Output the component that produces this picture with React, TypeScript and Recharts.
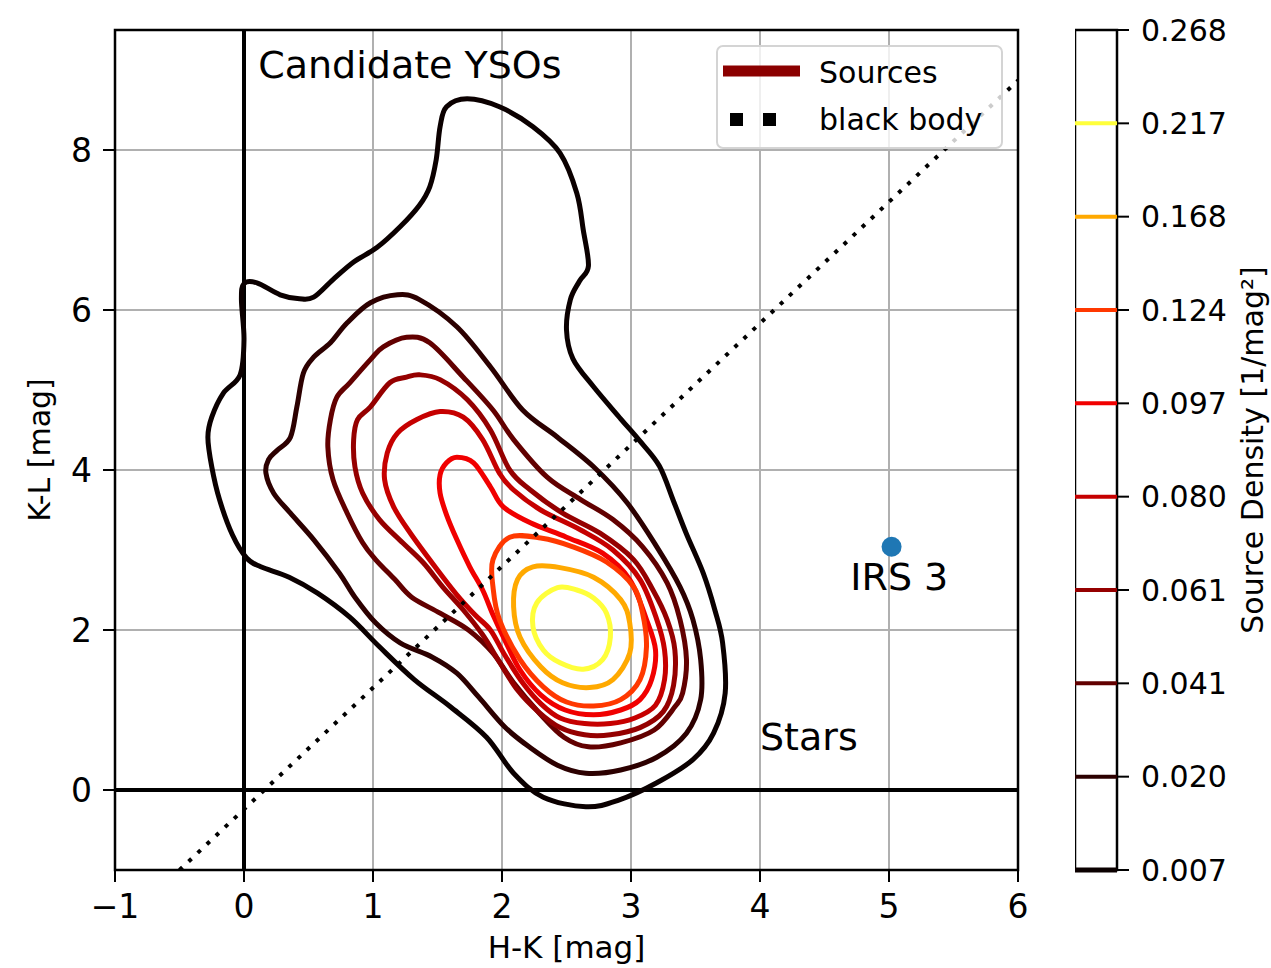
import React from 'react';
import {
  ComposedChart,
  Scatter,
  XAxis,
  YAxis,
  CartesianGrid,
  ReferenceLine,
  ReferenceArea,
  Legend,
  Label,
} from 'recharts';

const FONT = '"DejaVu Sans", sans-serif';

// axes
const xTicks = [-1, 0, 1, 2, 3, 4, 5, 6];
const yTicks = [0, 2, 4, 6, 8];

// density levels shown on the colorbar (1/mag^2)
const levels = [0.007, 0.02, 0.041, 0.061, 0.08, 0.097, 0.124, 0.168, 0.217, 0.268];
const levelLabels = ['0.007', '0.020', '0.041', '0.061', '0.080', '0.097', '0.124', '0.168', '0.217', '0.268'];

// contour paths, [H-K, K-L]
const c007: [number, number][] = [
  [1.73, 8.64], [1.98, 8.54], [2.24, 8.29], [2.45, 7.96], [2.58, 7.46], [2.63, 7.0], [2.67, 6.55],
  [2.6, 6.36], [2.53, 6.13], [2.5, 5.75], [2.55, 5.39], [2.71, 5.04], [2.92, 4.64], [3.07, 4.36],
  [3.22, 4.05], [3.33, 3.61], [3.43, 3.2], [3.56, 2.71], [3.65, 2.25], [3.71, 1.84], [3.73, 1.21],
  [3.64, 0.71], [3.48, 0.38], [3.2, 0.09], [2.9, -0.13], [2.65, -0.21], [2.32, -0.09], [2.09, 0.21],
  [1.88, 0.66], [1.6, 1.04], [1.32, 1.38], [1.05, 1.79], [0.82, 2.16], [0.57, 2.46], [0.35, 2.66],
  [0.13, 2.79], [0.02, 2.9], [-0.09, 3.19], [-0.19, 3.63], [-0.25, 4.04], [-0.28, 4.41], [-0.25, 4.66],
  [-0.16, 4.96], [-0.03, 5.19], [0.0, 5.63], [-0.02, 6.13], [0.0, 6.33], [0.1, 6.34], [0.28, 6.19],
  [0.43, 6.14], [0.54, 6.16], [0.69, 6.38], [0.85, 6.6], [1.03, 6.78], [1.21, 7.04], [1.36, 7.31],
  [1.44, 7.54], [1.49, 7.88], [1.52, 8.29], [1.57, 8.54],
];
const c020: [number, number][] = [
  [1.19, 6.19], [1.36, 6.13], [1.65, 5.79], [1.91, 5.29], [2.16, 4.75], [2.43, 4.41], [2.71, 4.04],
  [2.97, 3.59], [3.2, 3.04], [3.38, 2.54], [3.48, 2.13], [3.54, 1.63], [3.54, 1.13], [3.43, 0.71],
  [3.2, 0.41], [2.92, 0.25], [2.65, 0.21], [2.43, 0.31], [2.21, 0.54], [2.02, 0.79], [1.82, 1.16],
  [1.65, 1.46], [1.46, 1.66], [1.21, 1.84], [1.02, 2.09], [0.86, 2.41], [0.74, 2.71], [0.54, 3.13],
  [0.36, 3.46], [0.23, 3.71], [0.17, 3.96], [0.19, 4.13], [0.26, 4.25], [0.36, 4.41], [0.41, 4.79],
  [0.46, 5.21], [0.54, 5.41], [0.67, 5.59], [0.8, 5.84], [0.98, 6.09],
];
const c041: [number, number][] = [
  [1.26, 5.66], [1.44, 5.59], [1.7, 5.16], [1.93, 4.75], [2.09, 4.38], [2.35, 3.91], [2.61, 3.63],
  [2.86, 3.38], [3.09, 3.04], [3.28, 2.59], [3.38, 2.13], [3.43, 1.63], [3.4, 1.21], [3.34, 1.04],
  [3.18, 0.75], [2.92, 0.59], [2.67, 0.54], [2.48, 0.66], [2.29, 0.96], [2.09, 1.34], [1.93, 1.71],
  [1.74, 2.0], [1.52, 2.21], [1.3, 2.41], [1.17, 2.63], [1.02, 2.88], [0.92, 3.09], [0.8, 3.46],
  [0.69, 3.88], [0.65, 4.29], [0.67, 4.63], [0.72, 4.91], [0.82, 5.09], [0.98, 5.38], [1.08, 5.54],
];
const c061: [number, number][] = [
  [1.36, 5.19], [1.52, 5.13], [1.73, 4.88], [1.91, 4.5], [2.06, 4.0], [2.22, 3.75], [2.47, 3.46],
  [2.76, 3.21], [3.02, 2.88], [3.17, 2.5], [3.28, 2.13], [3.34, 1.75], [3.33, 1.31], [3.25, 0.98],
  [3.07, 0.78], [2.84, 0.69], [2.64, 0.69], [2.45, 0.78], [2.28, 0.98], [2.12, 1.25], [1.98, 1.6],
  [1.85, 1.94], [1.7, 2.25], [1.54, 2.54], [1.39, 2.84], [1.23, 3.09], [1.05, 3.38], [0.92, 3.71],
  [0.86, 4.04], [0.85, 4.38], [0.88, 4.63], [0.98, 4.79], [1.13, 5.09], [1.26, 5.16],
];
const c080: [number, number][] = [
  [1.52, 4.73], [1.7, 4.66], [1.85, 4.38], [1.98, 3.96], [2.09, 3.75], [2.3, 3.5], [2.61, 3.25],
  [2.86, 3.0], [3.07, 2.63], [3.2, 2.13], [3.26, 1.75], [3.26, 1.38], [3.19, 1.06], [3.03, 0.9],
  [2.84, 0.83], [2.64, 0.83], [2.45, 0.9], [2.3, 1.08], [2.16, 1.34], [2.02, 1.69], [1.91, 2.0],
  [1.79, 2.19], [1.65, 2.44], [1.5, 2.75], [1.29, 3.21], [1.16, 3.54], [1.09, 3.88], [1.11, 4.21],
  [1.19, 4.46], [1.34, 4.63],
];
const c097: [number, number][] = [
  [1.65, 4.16], [1.78, 4.09], [1.91, 3.79], [2.01, 3.54], [2.22, 3.34], [2.5, 3.16], [2.78, 2.96],
  [2.99, 2.63], [3.12, 2.13], [3.19, 1.75], [3.16, 1.38], [3.07, 1.13], [2.92, 1.0], [2.71, 0.94],
  [2.49, 1.0], [2.3, 1.19], [2.14, 1.5], [2.02, 1.88], [1.93, 2.19], [1.85, 2.5], [1.75, 2.79],
  [1.65, 3.13], [1.57, 3.44], [1.52, 3.71], [1.52, 3.94], [1.57, 4.09],
];
const c124: [number, number][] = [
  [2.06, 3.16], [2.3, 3.15], [2.55, 3.04], [2.81, 2.85], [3.02, 2.54], [3.09, 2.21], [3.12, 1.79],
  [3.07, 1.38], [2.92, 1.13], [2.71, 1.05], [2.5, 1.1], [2.32, 1.29], [2.14, 1.63], [1.98, 2.13],
  [1.93, 2.54], [1.93, 2.88],
];
const c168: [number, number][] = [
  [2.24, 2.79], [2.45, 2.78], [2.71, 2.66], [2.92, 2.38], [2.99, 2.09], [2.99, 1.71], [2.86, 1.38],
  [2.68, 1.28], [2.47, 1.34], [2.3, 1.54], [2.14, 1.91], [2.09, 2.29], [2.12, 2.63],
];
const c217: [number, number][] = [
  [2.43, 2.53], [2.58, 2.5], [2.71, 2.4], [2.81, 2.21], [2.84, 1.91], [2.78, 1.63], [2.63, 1.51],
  [2.45, 1.59], [2.32, 1.75], [2.24, 2.04], [2.27, 2.34],
];
const contours = [c007, c020, c041, c061, c080, c097, c124, c168, c217];

// black body colour line
const blackBodyX = [-0.5, 6.0];
const blackBodyY = [-1.0, 8.87];

// IRS 3
const irs3X = [5.02];
const irs3Y = [3.04];

// text annotations
const noteText = ['Candidate YSOs', 'Stars', 'IRS 3'];
const noteX = [0.11, 4.0, 4.7];
const noteY = [8.9, 0.5, 2.5];

const legendLabels = ['Sources', 'black body'];

// matplotlib "hot"
const hot = (t: number) => {
  const c = (v: number) => Math.round(Math.max(0, Math.min(1, v)) * 255);
  const r = c(0.0416 + (1 - 0.0416) * (t / 0.365079));
  const g = c((t - 0.365079) / (0.746032 - 0.365079));
  const b = c((t - 0.746032) / (1 - 0.746032));
  return `rgb(${r},${g},${b})`;
};
const lo = levels[0];
const hi = levels[levels.length - 1];
const levelColors = levels.map((v) => hot((v - lo) / (hi - lo)));

// smooth closed curve through the traced points (catmull-rom)
const closedCurve: any = (context: any) => {
  let pts: number[][] = [];
  return {
    areaStart() {},
    areaEnd() {},
    lineStart() {
      pts = [];
    },
    point(x: number, y: number) {
      pts.push([x, y]);
    },
    lineEnd() {
      const n = pts.length;
      if (!n) return;
      context.moveTo(pts[0][0], pts[0][1]);
      for (let i = 0; i < n; i++) {
        const p0 = pts[(i - 1 + n) % n];
        const p1 = pts[i];
        const p2 = pts[(i + 1) % n];
        const p3 = pts[(i + 2) % n];
        context.bezierCurveTo(
          p1[0] + (p2[0] - p0[0]) / 6,
          p1[1] + (p2[1] - p0[1]) / 6,
          p2[0] - (p3[0] - p1[0]) / 6,
          p2[1] - (p3[1] - p1[1]) / 6,
          p2[0],
          p2[1],
        );
      }
      context.closePath();
    },
  };
};

const noShape = () => <g />;

const fmtTick = (v: number) => (v < 0 ? `\u2212${-v}` : `${v}`);

const LegendBox = () => (
  <div
    style={{
      width: 287,
      height: 104,
      boxSizing: 'border-box',
      border: '2px solid #d4d4d4',
      borderRadius: 7,
      background: 'rgba(255,255,255,0.8)',
    }}
  >
    <svg width={283} height={100} style={{ display: 'block' }}>
      <line x1={5} x2={82} y1={24} y2={24} stroke="#8b0000" strokeWidth={11} />
      <text x={101} y={36} fontSize={30} fontFamily={FONT} fill="#000">
        {legendLabels[0]}
      </text>
      <rect x={12} y={66} width={13} height={13} fill="#000" />
      <rect x={45} y={66} width={13} height={13} fill="#000" />
      <text x={101} y={83} fontSize={30} fontFamily={FONT} fill="#000">
        {legendLabels[1]}
      </text>
    </svg>
  </div>
);

const yTitle = () => (
  <text x={50} y={450} transform="rotate(-90 50 450)" textAnchor="middle" fontSize={30} fontFamily={FONT} fill="#000">
    K-L [mag]
  </text>
);

const cbTitle = () => (
  <text x={188} y={450} transform="rotate(-90 188 450)" textAnchor="middle" fontSize={30} fontFamily={FONT} fill="#000">
    Source Density [1/mag²]
  </text>
);

export default function App() {
  const bbData = blackBodyX.map((x, i) => ({ x, y: blackBodyY[i] }));
  const irsData = irs3X.map((x, i) => ({ x, y: irs3Y[i] }));
  const noteData = noteText.map((label, i) => ({ x: noteX[i], y: noteY[i], label }));
  const cbData = levels.map((v, i) => ({ x: 0.5, y: i, v }));
  const cbTicks = levels.map((_, i) => i);

  return (
    <div
      style={{
        position: 'fixed',
        left: 0,
        top: 0,
        width: 1271,
        height: 968,
        overflow: 'hidden',
        background: '#fff',
        fontFamily: FONT,
      }}
    >
      <div style={{ position: 'absolute', left: 0, top: 0 }}>
        <ComposedChart width={1040} height={968} margin={{ top: 30, right: 22, bottom: 0, left: 0 }}>
          <CartesianGrid stroke="#b0b0b0" strokeWidth={2} />
          <XAxis
            type="number"
            dataKey="x"
            domain={[-1, 6]}
            ticks={xTicks}
            interval={0}
            allowDataOverflow
            height={98}
            tickSize={12}
            tickMargin={13}
            axisLine={false}
            tickLine={{ stroke: '#000', strokeWidth: 2 }}
            tick={{ fill: '#000', fontSize: 33 }}
            tickFormatter={fmtTick}
            label={{ value: 'H-K [mag]', position: 'insideBottom', offset: 10, fill: '#000', fontSize: 31 }}
          />
          <YAxis
            type="number"
            dataKey="y"
            domain={[-1, 9.5]}
            ticks={yTicks}
            interval={0}
            allowDataOverflow
            width={115}
            tickSize={12}
            tickMargin={11}
            axisLine={false}
            tickLine={{ stroke: '#000', strokeWidth: 2 }}
            tick={{ fill: '#000', fontSize: 33 }}
            tickFormatter={fmtTick}
            label={<Label content={yTitle} />}
          />
          <ReferenceLine x={0} stroke="#000" strokeWidth={4} />
          <ReferenceLine y={0} stroke="#000" strokeWidth={4} />
          {contours.map((pts, i) => (
            <Scatter
              key={levelLabels[i]}
              name={levelLabels[i]}
              data={pts.map(([x, y]) => ({ x, y }))}
              line={{ stroke: levelColors[i], strokeWidth: 5 }}
              lineJointType={closedCurve}
              shape={noShape}
              isAnimationActive={false}
            />
          ))}
          <Scatter
            name="black body"
            data={bbData}
            line={{ stroke: '#000', strokeWidth: 4, strokeDasharray: '4 8.5' }}
            lineJointType="linear"
            shape={noShape}
            isAnimationActive={false}
          />
          <Scatter
            name="IRS 3"
            data={irsData}
            shape={(p: any) => <circle cx={p.cx} cy={p.cy} r={10} fill="#1f77b4" />}
            isAnimationActive={false}
          />
          <Scatter
            name="notes"
            data={noteData}
            shape={(p: any) => (
              <text x={p.cx} y={p.cy} fontSize={38} fontFamily={FONT} fill="#000">
                {p.payload.label}
              </text>
            )}
            isAnimationActive={false}
          />
          <ReferenceArea x1={-1} x2={6} y1={-1} y2={9.5} fill="none" stroke="#000" strokeWidth={2.5} />
          <Legend
            layout="vertical"
            verticalAlign="middle"
            align="center"
            wrapperStyle={{ left: 716, top: 45, width: 287, height: 104 }}
            content={LegendBox}
          />
        </ComposedChart>
      </div>

      <div style={{ position: 'absolute', left: 1075, top: 0 }}>
        <ComposedChart width={196} height={968} data={cbData} margin={{ top: 30, right: 0, bottom: 98, left: 0 }}>
          <XAxis type="number" dataKey="x" domain={[0, 1]} hide />
          <YAxis
            type="number"
            dataKey="y"
            orientation="right"
            domain={[0, 9]}
            ticks={cbTicks}
            interval={0}
            width={154}
            tickSize={12}
            tickMargin={12}
            axisLine={false}
            tickLine={{ stroke: '#000', strokeWidth: 2 }}
            tick={{ fill: '#000', fontSize: 30 }}
            tickFormatter={(i: number) => levelLabels[i]}
            label={<Label content={cbTitle} />}
          />
          <ReferenceArea x1={0} x2={1} y1={0} y2={9} fill="#fff" fillOpacity={1} stroke="none" />
          {levels.slice(0, -1).map((v, i) => (
            <ReferenceLine key={v} y={i} stroke={levelColors[i]} strokeWidth={i === 0 ? 5 : 4} />
          ))}
          <ReferenceArea x1={0} x2={1} y1={0} y2={9} fill="none" stroke="#000" strokeWidth={2.5} />
        </ComposedChart>
      </div>
    </div>
  );
}
